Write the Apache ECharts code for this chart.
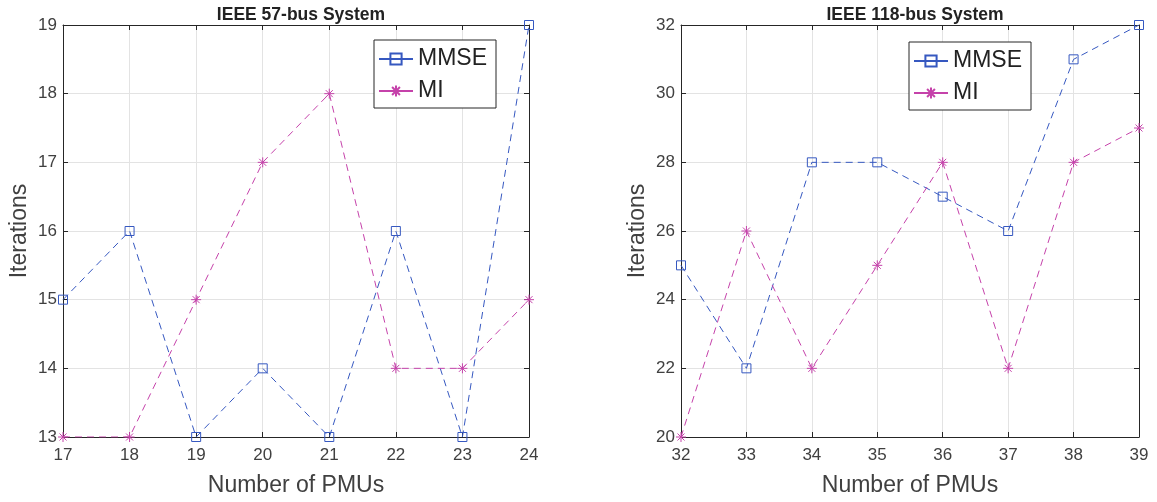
<!DOCTYPE html>
<html>
<head>
<meta charset="utf-8">
<script src="https://cdn.jsdelivr.net/npm/echarts@6/dist/echarts.min.js"></script>
<style>
  html, body { margin: 0; padding: 0; background: #fff; }
  #chart { width: 1157px; height: 502px; }
</style>
</head>
<body>
<div id="chart"></div>
<script>
// IEEE 57-bus system: iterations versus number of PMUs
const pmu57 = [17, 18, 19, 20, 21, 22, 23, 24];
const mmse57 = [15, 16, 13, 14, 13, 16, 13, 19];
const mi57 = [13, 13, 15, 17, 18, 14, 14, 15];

// IEEE 118-bus system
const pmu118 = [32, 33, 34, 35, 36, 37, 38, 39];
const mmse118 = [25, 22, 28, 28, 27, 26, 31, 32];
const mi118 = [20, 26, 22, 25, 28, 22, 28, 29];

const titles = ['IEEE 57-bus System', 'IEEE 118-bus System'];
const seriesNames = ['MMSE', 'MI'];

const BLUE = '#3658c0';
const MAGENTA = '#c542aa';
const AXIS = '#262626';
const LABEL = '#404040';
const FONT = 'Liberation Sans, Arial, sans-serif';

// asterisk marker drawn as stroked lines
const ASTERISK = 'path://M5 0 L5 10 M0 5 L10 5 M1.5 1.5 L8.5 8.5 M1.5 8.5 L8.5 1.5';

const grids = [
  { left: 63, right: 628, top: 25, bottom: 65 },
  { left: 681, right: 18, top: 25, bottom: 65 }
];

function pairs(xs, ys) { return xs.map((x, i) => [x, ys[i]]); }

function xAxes(gi, min, max, interval) {
  return [
    {
      type: 'value', gridIndex: gi, min: min, max: max, interval: interval,
      name: 'Number of PMUs', nameLocation: 'middle', nameGap: 37,
      nameTextStyle: { fontSize: 23, color: LABEL, fontFamily: FONT },
      axisLine: { lineStyle: { color: AXIS, width: 1 } },
      axisTick: { inside: true, length: 5, lineStyle: { color: AXIS } },
      axisLabel: { fontSize: 17, color: LABEL, fontFamily: FONT, margin: 10 },
      splitLine: { show: true, lineStyle: { color: '#e3e3e3', width: 1 } }
    },
    {
      type: 'value', gridIndex: gi, position: 'top', min: min, max: max, interval: interval,
      axisLine: { lineStyle: { color: AXIS, width: 1 } },
      axisTick: { inside: true, length: 5, lineStyle: { color: AXIS } },
      axisLabel: { show: false }, splitLine: { show: false }
    }
  ];
}

function yAxes(gi, min, max, interval) {
  return [
    {
      type: 'value', gridIndex: gi, min: min, max: max, interval: interval,
      name: 'Iterations', nameLocation: 'middle', nameGap: 32,
      nameTextStyle: { fontSize: 23, color: LABEL, fontFamily: FONT },
      axisLine: { show: true, lineStyle: { color: AXIS, width: 1 } },
      axisTick: { show: true, inside: true, length: 5, lineStyle: { color: AXIS } },
      axisLabel: { fontSize: 17, color: LABEL, fontFamily: FONT, margin: 6 },
      splitLine: { show: true, lineStyle: { color: '#e3e3e3', width: 1 } }
    },
    {
      type: 'value', gridIndex: gi, position: 'right', min: min, max: max, interval: interval,
      axisLine: { show: true, lineStyle: { color: AXIS, width: 1 } },
      axisTick: { show: true, inside: true, length: 5, lineStyle: { color: AXIS } },
      axisLabel: { show: false }, splitLine: { show: false }
    }
  ];
}

function lineSeries(name, data, xi, yi, color, isMI) {
  return {
    name: name, type: 'line', xAxisIndex: xi, yAxisIndex: yi,
    data: data,
    symbol: isMI ? ASTERISK : 'rect',
    symbolSize: isMI ? 10 : 9,
    showAllSymbol: true,
    lineStyle: { color: color, width: 1, type: [7, 5] },
    itemStyle: { color: 'none', borderColor: color, borderWidth: 1 },
    emphasis: { disabled: true },
    animation: false
  };
}

function legend(left, top) {
  return {
    left: left, top: top, orient: 'vertical',
    data: seriesNames,
    backgroundColor: '#fff',
    borderColor: AXIS, borderWidth: 1, borderRadius: 0,
    padding: [6, 9, 4, 4],
    itemWidth: 34, itemHeight: 14, itemGap: 6,
    textStyle: { fontSize: 23, color: '#222', fontFamily: FONT, lineHeight: 26 },
    lineStyle: { type: 'solid' }
  };
}

const option = {
  backgroundColor: '#fff',
  animation: false,
  color: [BLUE, MAGENTA],
  title: titles.map((t, i) => ({
    text: t,
    left: i === 0 ? 296 : 910,
    top: 1,
    textAlign: 'center',
    textStyle: { fontSize: 17.5, fontWeight: 'bold', color: '#222', fontFamily: FONT }
  })),
  grid: grids,
  xAxis: [...xAxes(0, 17, 24, 1), ...xAxes(1, 32, 39, 1)],
  yAxis: [...yAxes(0, 13, 19, 1), ...yAxes(1, 20, 32, 2)],
  legend: [legend(374, 40), legend(909, 42)],
  series: [
    lineSeries('MMSE', pairs(pmu57, mmse57), 0, 0, BLUE, false),
    lineSeries('MI', pairs(pmu57, mi57), 0, 0, MAGENTA, true),
    lineSeries('MMSE', pairs(pmu118, mmse118), 2, 2, BLUE, false),
    lineSeries('MI', pairs(pmu118, mi118), 2, 2, MAGENTA, true)
  ]
};

const chart = echarts.init(document.getElementById('chart'), null, { renderer: 'canvas' });
chart.setOption(option);
</script>
</body>
</html>
